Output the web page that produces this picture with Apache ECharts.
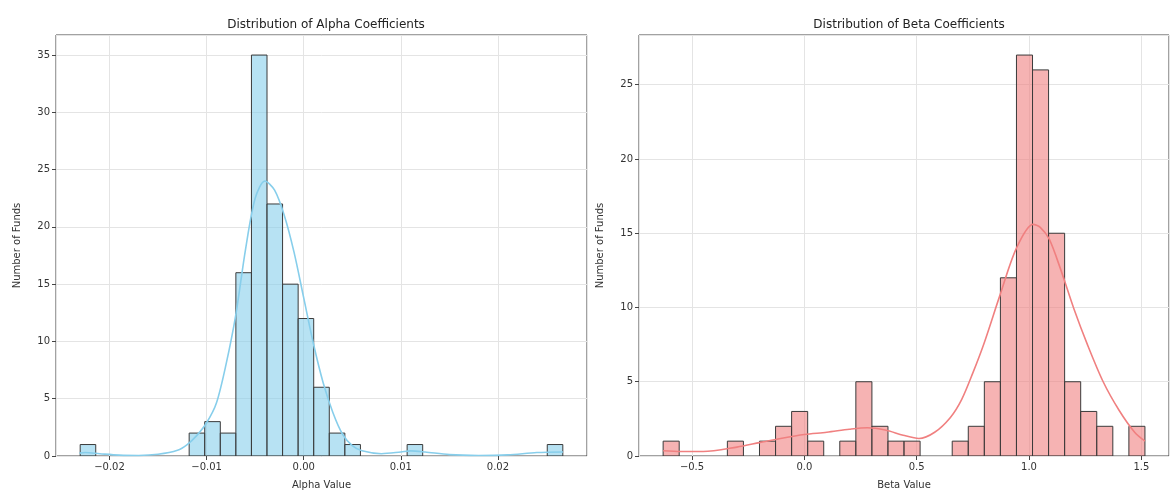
<!DOCTYPE html>
<html><head><meta charset="utf-8">
<script src="https://cdn.jsdelivr.net/npm/echarts@6/dist/echarts.min.js"></script>
<style>html,body{margin:0;padding:0;background:#fff}#c{width:1172px;height:495px}</style>
</head><body><div id="c"></div>
<script>
// ---- Data ----
const alphaBinRange = [-0.02302, 0.02668];
const alphaCounts = [1,0,0,0,0,0,0,2,3,2,16,35,22,15,12,6,2,1,0,0,0,1,0,0,0,0,0,0,0,0,1];
const alphaKdeX = [-0.0231,-0.0225,-0.021,-0.019,-0.017,-0.015,-0.013,-0.012,-0.011,-0.010,-0.009,-0.008,-0.007,-0.006,-0.005,-0.004,-0.003,-0.002,-0.001,0.000,0.001,0.002,0.003,0.004,0.005,0.006,0.008,0.010,0.011,0.0125,0.015,0.018,0.021,0.024,0.0267];
const alphaKdeY = [0.25,0.3,0.2,0.08,0.05,0.15,0.5,1.0,1.8,2.9,4.6,8.0,12.3,18,22.5,24,23.2,21.0,17.8,13.8,9.8,6.4,3.8,1.9,0.9,0.45,0.2,0.35,0.45,0.35,0.12,0.05,0.1,0.3,0.35];

const betaBinRange = [-0.6286, 1.5159];
const betaCounts = [1,0,0,0,1,0,1,2,3,1,0,1,5,2,1,1,0,0,1,2,5,12,27,26,15,5,3,2,0,2];
const betaKdeX = [-0.6286,-0.55,-0.45,-0.3,-0.2,-0.1,0.0,0.1,0.2,0.28,0.36,0.44,0.51,0.58,0.65,0.7,0.75,0.8,0.87,0.944,1.018,1.05,1.09,1.14,1.2,1.26,1.33,1.4,1.47,1.516];
const betaKdeY = [0.35,0.3,0.3,0.6,0.9,1.2,1.45,1.6,1.8,1.9,1.75,1.4,1.18,1.6,2.6,3.8,5.6,7.6,10.8,14,15.6,15.4,14.6,12.6,9.9,7.5,5.0,3.1,1.6,1.0];

const alphaXLim = [-0.02551, 0.02917];
const betaXLim = [-0.736, 1.623];
const alphaYMax = 36.75;
const betaYMax = 28.35;
const alphaXStep = 0.01, betaXStep = 0.5, yStep = 5;

const titles = ['Distribution of Alpha Coefficients', 'Distribution of Beta Coefficients'];
const xNames = ['Alpha Value', 'Beta Value'];
const yName = 'Number of Funds';

// ---- Chart ----
const FONT = 'DejaVu Sans';
const TXT = '#333';
function fmtTick(step, dec) {
  return function (v) {
    const r = v / step;
    if (Math.abs(r - Math.round(r)) > 1e-6) return '';
    const s = (Math.round(r) * step).toFixed(dec);
    return s.startsWith('-') ? '\u2212' + s.slice(1) : s;
  };
}
function xAxis(idx, lim, step, dec, name) {
  return {
    type: 'value', gridIndex: idx, min: lim[0], max: lim[1],
    name: name, nameLocation: 'middle', nameGap: 24,
    nameTextStyle: { fontFamily: FONT, fontSize: 10, color: TXT },
    axisLine: { show: false, onZero: false },
    axisTick: { show: true, length: 4, lineStyle: { color: '#444' } },
    axisLabel: { fontFamily: FONT, fontSize: 10, color: TXT, margin: 6, formatter: fmtTick(step, dec), showMinLabel: false, showMaxLabel: false },
    splitLine: { show: true, lineStyle: { color: '#e4e4e4', width: 1 } }
  };
}
function yAxis(idx, max) {
  return {
    type: 'value', gridIndex: idx, min: 0, max: max, interval: yStep,
    name: yName, nameLocation: 'middle', nameGap: 34,
    nameTextStyle: { fontFamily: FONT, fontSize: 10, color: TXT },
    axisLine: { show: false, onZero: false },
    axisTick: { show: true, length: 4, lineStyle: { color: '#444' } },
    axisLabel: { fontFamily: FONT, fontSize: 10, color: TXT, margin: 6, showMaxLabel: false },
    splitLine: { show: true, lineStyle: { color: '#e4e4e4', width: 1 } }
  };
}
function histSeries(range, counts, fill, idx) {
  const w = (range[1] - range[0]) / counts.length;
  const data = counts.map((c, i) => [range[0] + i * w, range[0] + (i + 1) * w, c]);
  return {
    type: 'custom', xAxisIndex: idx, yAxisIndex: idx, data: data,
    encode: { x: [0, 1], y: 2 }, z: 2, clip: true,
    renderItem: function (params, api) {
      const c = api.value(2);
      if (!c) return null;
      const p0 = api.coord([api.value(0), c]);
      const p1 = api.coord([api.value(1), 0]);
      return {
        type: 'rect',
        shape: { x: p0[0], y: p0[1], width: p1[0] - p0[0], height: p1[1] - p0[1] },
        style: { fill: fill, stroke: '#3a3a3a', lineWidth: 1 }
      };
    }
  };
}
function kdeSeries(xs, ys, color, idx) {
  return {
    type: 'line', xAxisIndex: idx, yAxisIndex: idx, z: 3,
    data: xs.map((x, i) => [x, ys[i]]), smooth: 0.3, showSymbol: false,
    lineStyle: { color: color, width: 1.6 }, silent: true
  };
}

const chart = echarts.init(document.getElementById('c'), null, { renderer: 'canvas' });
chart.setOption({
  animation: false,
  backgroundColor: '#fff',
  title: [
    { text: titles[0], left: 321, top: 14, textAlign: 'center', textStyle: { fontFamily: FONT, fontSize: 12, fontWeight: 'normal', color: '#222' } },
    { text: titles[1], left: 904, top: 14, textAlign: 'center', textStyle: { fontFamily: FONT, fontSize: 12, fontWeight: 'normal', color: '#222' } }
  ],
  grid: [
    { left: 56, right: 585, top: 35, bottom: 36, show: true, borderColor: '#444', borderWidth: 1, backgroundColor: 'transparent' },
    { left: 639, right: 3, top: 35, bottom: 36, show: true, borderColor: '#444', borderWidth: 1, backgroundColor: 'transparent' }
  ],
  xAxis: [
    xAxis(0, alphaXLim, alphaXStep, 2, xNames[0]),
    xAxis(1, betaXLim, betaXStep, 1, xNames[1])
  ],
  yAxis: [yAxis(0, alphaYMax), yAxis(1, betaYMax)],
  series: [
    histSeries(alphaBinRange, alphaCounts, 'rgba(135,206,235,0.6)', 0),
    kdeSeries(alphaKdeX, alphaKdeY, '#87CEEB', 0),
    histSeries(betaBinRange, betaCounts, 'rgba(240,128,128,0.6)', 1),
    kdeSeries(betaKdeX, betaKdeY, '#F08080', 1)
  ]
});
</script>
</body></html>
